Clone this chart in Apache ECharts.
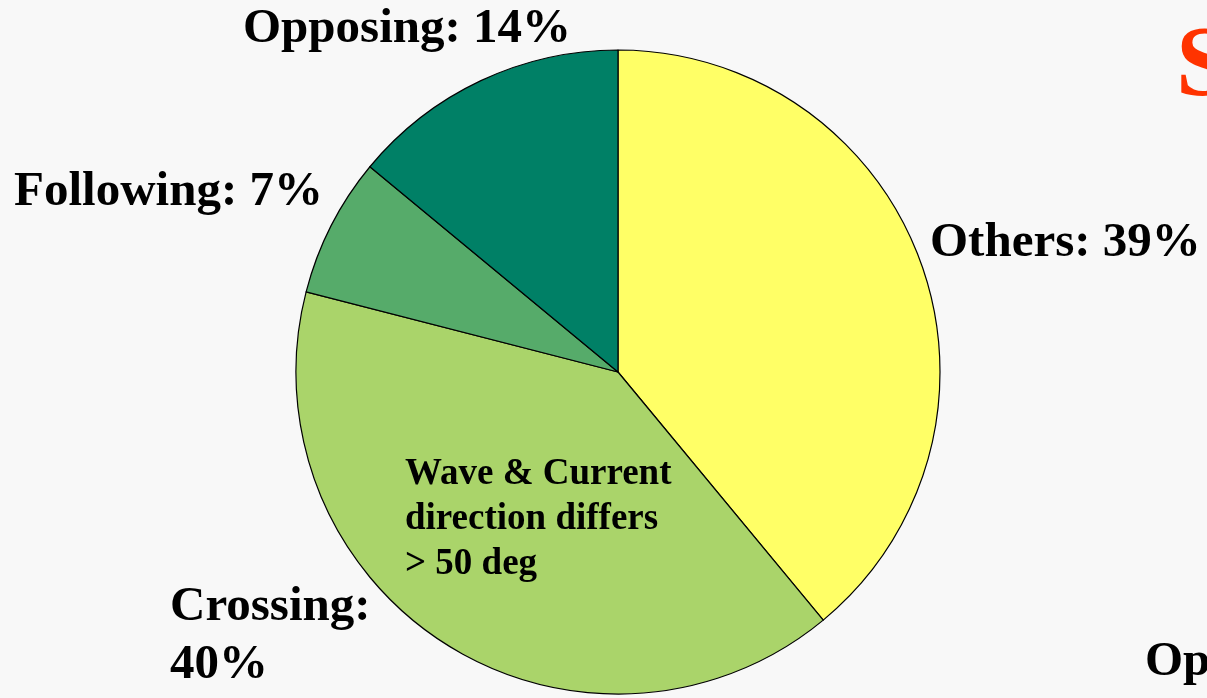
<!DOCTYPE html>
<html><head><meta charset="utf-8">
<script src="https://cdn.jsdelivr.net/npm/echarts@6/dist/echarts.min.js"></script>
<style>html,body{margin:0;padding:0;background:#F8F8F8;}#c{width:1207px;height:698px;}</style>
</head><body><div id="c"></div>
<script>
const categories = ['Others', 'Crossing', 'Following', 'Opposing'];
const values = [39, 40, 7, 14];
const colors = ['#FFFF66', '#AAD46A', '#56AB6A', '#008066'];
const noteText = 'Wave & Current\ndirection differs\n> 50 deg';
const titleFragment = 'S';
const footFragment = 'Op';

// label anchor positions (left x, middle y)
const labelPos = [[930, 243], [170, 636], [14, 192], [243, 29]];

const chart = echarts.init(document.getElementById('c'));
chart.setOption({
  backgroundColor: '#F8F8F8',
  animation: false,
  series: [{
    type: 'pie',
    center: [618, 372],
    radius: 322,
    startAngle: 90,
    clockwise: true,
    data: categories.map((c, i) => ({name: c, value: values[i], itemStyle: {color: colors[i]}})),
    itemStyle: {borderColor: '#000', borderWidth: 1.2},
    label: {
      show: true,
      formatter: p => p.name === 'Crossing' ? p.name + ':\n' + p.value + '%' : p.name + ': ' + p.value + '%',
      fontFamily: '"Liberation Serif", "Times New Roman", serif',
      fontWeight: 'bold',
      fontSize: 49,
      lineHeight: 58,
      color: '#000',
      width: 500,
      overflow: 'none'
    },
    labelLine: {show: false},
    labelLayout: p => ({x: labelPos[p.dataIndex][0], y: labelPos[p.dataIndex][1], align: 'left', verticalAlign: 'middle'}),
    emphasis: {disabled: true}
  }],
  graphic: [
    {type: 'text', z: 100, left: 405, top: 452, style: {text: noteText, font: 'bold 37px "Liberation Serif", serif', lineHeight: 45, fill: '#000'}},
    {type: 'text', z: 100, left: 1176, top: 18, style: {text: titleFragment, font: 'bold 100px "Liberation Serif", serif', fill: '#FF3300'}},
    {type: 'text', z: 100, left: 1145, top: 638, style: {text: footFragment, font: 'bold 49px "Liberation Serif", serif', fill: '#000'}}
  ]
});
</script></body></html>
